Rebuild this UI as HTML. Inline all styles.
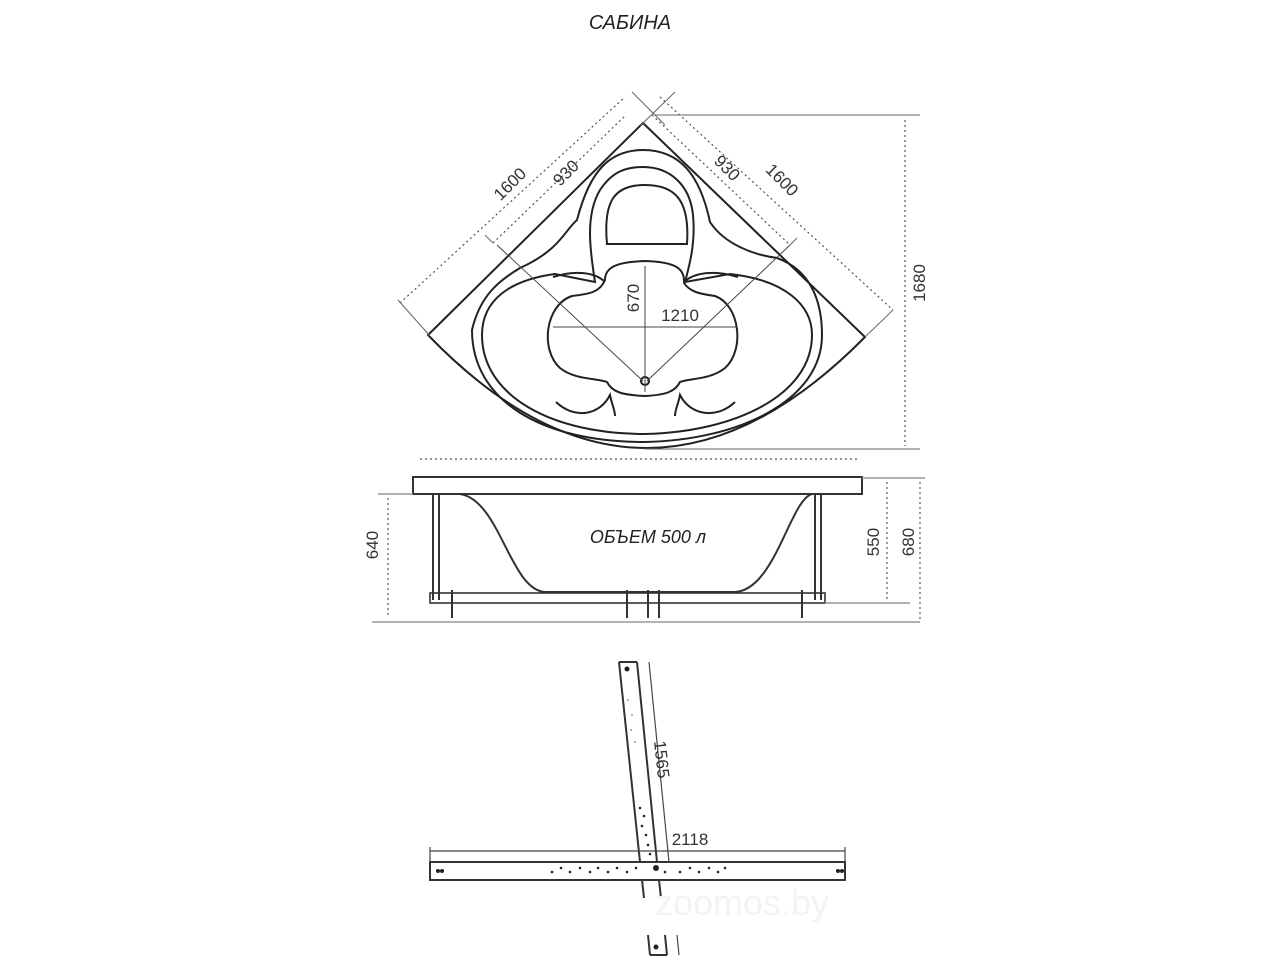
<!DOCTYPE html>
<html><head><meta charset="utf-8"><style>
html,body{margin:0;padding:0;background:#fff;}
svg{display:block;}
text{font-family:"Liberation Sans","DejaVu Sans",sans-serif;}
</style></head><body>
<svg width="1280" height="960" viewBox="0 0 1280 960" xmlns="http://www.w3.org/2000/svg">
<text x="630" y="29" font-size="20" font-style="italic" text-anchor="middle" fill="#222">САБИНА</text>

<!-- TOP VIEW -->
<g fill="none" stroke="#222" stroke-width="2">
<path d="M428,335 L643,123 L865,337 Q645,560 428,335 Z"/>
<path d="M472,330 C480,295 500,280 520,268 C560,250 565,230 577,220 C590,170 610,150 643,150 C680,150 700,175 710,222 C725,245 755,255 777,258 C810,270 822,300 822,335 C822,400 740,440 645,442 C540,442 472,400 472,330 Z"/>
<path d="M482,335 C482,300 510,280 555,274 L595,282 C590,250 585,215 600,190 C612,172 625,167 643,167 C670,167 690,185 693,215 C696,245 688,270 685,282 L730,274 C785,280 812,305 812,335 C812,395 735,432 645,434 C550,434 482,395 482,335 Z"/>
<path d="M607,244 C603,200 615,185 645,185 C675,185 690,200 687,244 Z"/>
<path d="M605,280 C605,268 615,262 645,261 C675,262 685,268 684,283 C690,292 700,294 715,296 C740,305 745,350 725,368 C710,380 690,378 680,382 C675,392 665,395 645,396 C622,395 612,392 607,382 C597,378 575,380 560,368 C540,350 545,305 572,296 C590,294 600,292 605,280 Z"/>
<path d="M553,277 C575,270 595,272 605,282"/>
<path d="M738,277 C715,270 695,272 684,282"/>
<path d="M556,402 C575,420 600,415 610,395 C612,405 615,410 615,416"/>
<path d="M735,402 C716,420 690,415 680,395 C678,405 675,410 675,416"/>
<circle cx="645" cy="381" r="4"/>
</g>
<g stroke="#444" stroke-width="1" fill="none">
<line x1="645" y1="266" x2="645" y2="392"/>
<line x1="553" y1="327" x2="737" y2="327"/>
<line x1="497" y1="245" x2="643" y2="381"/>
<line x1="790" y1="245" x2="647" y2="381"/>
</g>
<text x="680" y="321" font-size="17" text-anchor="middle" fill="#333">1210</text>
<text font-size="17" text-anchor="middle" fill="#333" transform="translate(639,298) rotate(-90)">670</text>
<g stroke="#555" stroke-width="1.2" stroke-dasharray="2,3" fill="none">
<line x1="400" y1="303" x2="625" y2="97"/>
<line x1="493" y1="243" x2="626" y2="115"/>
<line x1="660" y1="97" x2="893" y2="310"/>
<line x1="652" y1="115" x2="790" y2="245"/>
<line x1="905" y1="120" x2="905" y2="446"/>
<line x1="420" y1="459" x2="858" y2="459"/>
</g>
<g stroke="#666" stroke-width="1" fill="none">
<line x1="632" y1="92" x2="665" y2="125"/>
<line x1="675" y1="92" x2="640" y2="126"/>
<line x1="655" y1="115" x2="920" y2="115"/>
<line x1="645" y1="449" x2="920" y2="449"/>
<line x1="398" y1="300" x2="430" y2="336"/>
<line x1="893" y1="310" x2="865" y2="337"/>
<line x1="493" y1="243" x2="485" y2="235"/>
<line x1="790" y1="245" x2="797" y2="238"/>
</g>
<g font-size="17" text-anchor="middle" fill="#333">
<text transform="translate(514,188) rotate(-45)">1600</text>
<text transform="translate(570,177) rotate(-45)">930</text>
<text transform="translate(723,172) rotate(45)">930</text>
<text transform="translate(778,184) rotate(45)">1600</text>
<text transform="translate(925,283) rotate(-90)">1680</text>
</g>

<!-- SIDE VIEW -->
<g fill="none" stroke="#333" stroke-width="2">
<rect x="413" y="477" width="449" height="17"/>
<path d="M460,494 C500,500 510,590 545,592 L735,592 C775,590 790,500 812,494"/>
<line x1="433" y1="494" x2="433" y2="600"/><line x1="439" y1="494" x2="439" y2="600"/>
<line x1="815" y1="494" x2="815" y2="600"/><line x1="821" y1="494" x2="821" y2="600"/>
<rect x="430" y="593" width="395" height="10" stroke-width="1.6"/>
<line x1="452" y1="590" x2="452" y2="618"/>
<line x1="627" y1="590" x2="627" y2="618"/>
<line x1="648" y1="590" x2="648" y2="618"/>
<line x1="659" y1="590" x2="659" y2="618"/>
<line x1="802" y1="590" x2="802" y2="618"/>
</g>
<g stroke="#999" stroke-width="1.5" fill="none">
<line x1="372" y1="622" x2="920" y2="622"/>
<line x1="378" y1="494" x2="413" y2="494"/>
<line x1="825" y1="603" x2="910" y2="603"/>
<line x1="862" y1="478" x2="925" y2="478"/>
</g>
<g stroke="#555" stroke-width="1.2" stroke-dasharray="2,3" fill="none">
<line x1="388" y1="498" x2="388" y2="618"/>
<line x1="887" y1="482" x2="887" y2="601"/>
<line x1="920" y1="482" x2="920" y2="620"/>
</g>
<text x="648" y="543" font-size="18" font-style="italic" text-anchor="middle" fill="#222">ОБЪЕМ 500 л</text>
<g font-size="17" text-anchor="middle" fill="#333">
<text transform="translate(378,545) rotate(-90)">640</text>
<text transform="translate(879,542) rotate(-90)">550</text>
<text transform="translate(914,542) rotate(-90)">680</text>
</g>

<!-- FRAME -->
<g fill="none" stroke="#333" stroke-width="2">
<rect x="430" y="862" width="415" height="18"/>
<line x1="619" y1="662" x2="640" y2="862"/>
<line x1="637" y1="662" x2="657" y2="862"/>
<line x1="619" y1="662" x2="637" y2="662"/>
<line x1="642" y1="880" x2="644" y2="898"/>
<line x1="659" y1="880" x2="661" y2="898"/>
<line x1="648" y1="935" x2="650" y2="955"/>
<line x1="665" y1="935" x2="667" y2="955"/>
<line x1="650" y1="955" x2="667" y2="955"/>
</g>
<g stroke="#444" stroke-width="1.2" fill="none">
<line x1="649" y1="662" x2="669" y2="862"/>
<line x1="677" y1="935" x2="679" y2="955"/>
<line x1="430" y1="851" x2="845" y2="851"/>
<line x1="430" y1="847" x2="430" y2="862"/><line x1="845" y1="847" x2="845" y2="862"/>
</g>
<g fill="#222">
<circle cx="627" cy="669" r="2.5"/><circle cx="656" cy="868" r="3"/><circle cx="656" cy="947" r="2.5"/>
<circle cx="438" cy="871" r="2"/><circle cx="442" cy="871" r="2"/><circle cx="838" cy="871" r="2"/><circle cx="842" cy="871" r="2"/>
<circle cx="552" cy="872" r="1.3"/><circle cx="561" cy="868" r="1.3"/><circle cx="570" cy="872" r="1.3"/><circle cx="580" cy="868" r="1.3"/><circle cx="590" cy="872" r="1.3"/><circle cx="598" cy="868" r="1.3"/><circle cx="608" cy="872" r="1.3"/><circle cx="617" cy="868" r="1.3"/><circle cx="627" cy="872" r="1.3"/><circle cx="636" cy="868" r="1.3"/>
<circle cx="665" cy="872" r="1.3"/><circle cx="680" cy="872" r="1.3"/><circle cx="690" cy="868" r="1.3"/><circle cx="699" cy="872" r="1.3"/><circle cx="709" cy="868" r="1.3"/><circle cx="718" cy="872" r="1.3"/><circle cx="725" cy="868" r="1.3"/>
<circle cx="640" cy="808" r="1.3"/><circle cx="644" cy="816" r="1.3"/><circle cx="642" cy="826" r="1.3"/><circle cx="646" cy="835" r="1.3"/><circle cx="648" cy="845" r="1.3"/><circle cx="650" cy="854" r="1.3"/>
<circle cx="628" cy="700" r="1" fill="#999"/><circle cx="632" cy="715" r="1" fill="#999"/><circle cx="631" cy="730" r="1" fill="#999"/><circle cx="635" cy="742" r="1" fill="#999"/>
</g>
<text x="690" y="845" font-size="17" text-anchor="middle" fill="#333">2118</text>
<text font-size="17" text-anchor="middle" fill="#333" transform="translate(656,760) rotate(84)">1565</text>
<text x="742" y="915" font-size="36" style="fill:#f3f3f3" text-anchor="middle">zoomos.by</text>
</svg>
</body></html>
